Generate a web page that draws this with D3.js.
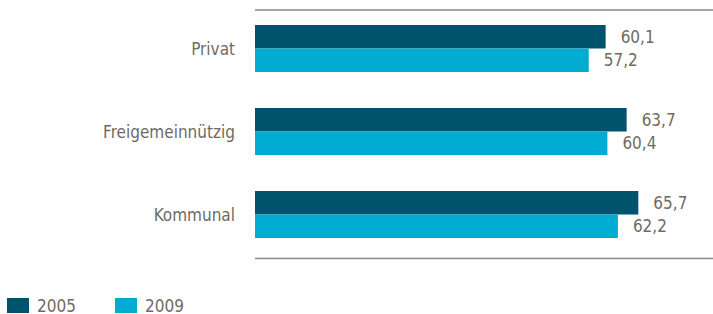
<!DOCTYPE html>
<html>
<head>
<meta charset="utf-8">
<script src="https://cdn.jsdelivr.net/npm/d3@7"></script>
<style>
  body { margin: 0; background: #fff; }
  text { font-family: "DejaVu Sans Condensed", "DejaVu Sans", sans-serif; fill: #6f6b64; }
</style>
</head>
<body>
<div id="chart"></div>
<script>
const categories = ['Privat', 'Freigemeinnützig', 'Kommunal'];
const years = ['2005', '2009'];
const values2005 = [60.1, 63.7, 65.7];
const values2009 = [57.2, 60.4, 62.2];
const colors = ['#00536c', '#00acd1'];

const width = 713;
const height = 314;

const svg = d3.select('#chart')
  .append('svg')
  .attr('width', width)
  .attr('height', height);

const x = d3.scaleLinear().domain([0, 78.5]).range([255, 713]);
const y = d3.scaleBand().domain(categories).range([25, 238]).paddingInner(0.434);
const ySub = d3.scaleBand().domain(years).range([0, y.bandwidth()]);

const fmt = (v) => d3.format('.1f')(v).replace('.', ',');

const rows = categories.map((c, i) => ({
  name: c,
  vals: [values2005[i], values2009[i]],
}));

// horizontal rules top and bottom
svg.append('g')
  .selectAll('line')
  .data([10, 258.5])
  .join('line')
  .attr('x1', x(0))
  .attr('x2', width)
  .attr('y1', (d) => d)
  .attr('y2', (d) => d)
  .attr('stroke', '#8d8880')
  .attr('stroke-width', 1.5);

const group = svg.selectAll('.cat')
  .data(rows)
  .join('g')
  .attr('class', 'cat')
  .attr('transform', (d) => `translate(0,${y(d.name)})`);

group.selectAll('rect')
  .data((d) => d.vals.map((v, j) => ({ v, year: years[j] })))
  .join('rect')
  .attr('x', x(0))
  .attr('y', (d) => ySub(d.year))
  .attr('width', (d) => x(d.v) - x(0))
  .attr('height', ySub.bandwidth())
  .attr('fill', (d, j) => colors[j]);

group.selectAll('.val')
  .data((d) => d.vals.map((v, j) => ({ v, year: years[j] })))
  .join('text')
  .attr('class', 'val')
  .attr('x', (d) => x(d.v) + 15)
  .attr('y', (d) => ySub(d.year) + ySub.bandwidth() / 2)
  .attr('dy', '0.36em')
  .attr('font-size', 17)
  .text((d) => fmt(d.v));

group.append('text')
  .attr('x', 235)
  .attr('y', y.bandwidth() / 2)
  .attr('dy', '0.36em')
  .attr('text-anchor', 'end')
  .attr('font-size', 17)
  .text((d) => d.name);

// legend
const legend = svg.selectAll('.leg')
  .data(years)
  .join('g')
  .attr('class', 'leg')
  .attr('transform', (d, i) => `translate(${7 + i * 108},298)`);

legend.append('rect')
  .attr('width', 22)
  .attr('height', 15)
  .attr('fill', (d, i) => colors[i]);

legend.append('text')
  .attr('x', 30)
  .attr('y', 7.5)
  .attr('dy', '0.36em')
  .attr('font-size', 17)
  .text((d) => d);
</script>
</body>
</html>
